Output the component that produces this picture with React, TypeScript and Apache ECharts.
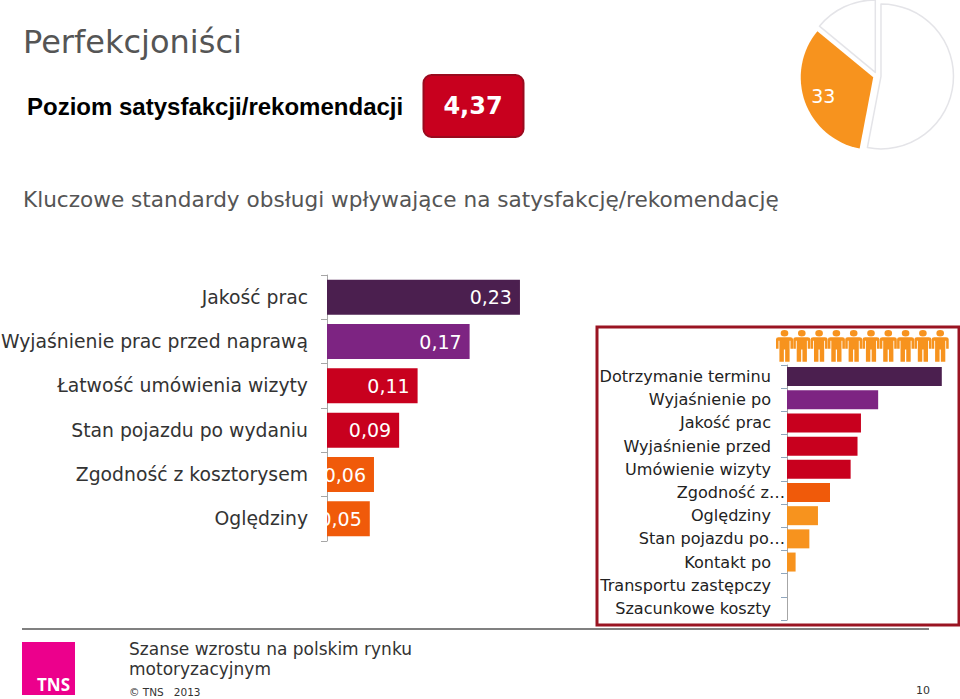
import React, { useEffect, useRef } from "react";
import * as echarts from "echarts";

const leftCategories = ["Jakość prac", "Wyjaśnienie prac przed naprawą", "Łatwość umówienia wizyty", "Stan pojazdu po wydaniu", "Zgodność z kosztorysem", "Oględziny"];
const leftValues = [0.23, 0.17, 0.108, 0.086, 0.056, 0.051];
const leftColors = ["#4b1f4f", "#7d2482", "#c8001e", "#c8001e", "#f05a0a", "#f05a0a"];

const rightCategories = ["Dotrzymanie terminu", "Wyjaśnienie po", "Jakość prac", "Wyjaśnienie przed", "Umówienie wizyty", "Zgodność z…", "Oględziny", "Stan pojazdu po…", "Kontakt po", "Transportu zastępczy", "Szacunkowe koszty"];
const rightValues = [90, 53, 43, 41, 37, 25, 18, 13, 5, 0, 0];
const rightColors = ["#4b1f4f", "#7d2482", "#c8001e", "#c8001e", "#c8001e", "#f05a0a", "#f7931e", "#f7931e", "#f7931e", "#f7931e", "#f7931e"];

const pieValues = [53, 33, 14];
const peopleCount = 10;

const FONT = "DejaVu Sans";
const PERSON =
  "M10 0a4.5 4.5 0 1 1 0 9a4.5 4.5 0 1 1 0-9z M3 10h14a3 3 0 0 1 3 3v13h-3v-11h-1v29h-5.25v-17h-1.5v17h-5.25v-29h-1v11h-3v-13a3 3 0 0 1 3-3z";

export default function App() {
  const ref = useRef<HTMLDivElement>(null);
  useEffect(() => {
    document.body.style.margin = "0";
    echarts.graphic.registerShape("person", echarts.graphic.extendPath(PERSON, {}) as any);
    const chart = echarts.init(ref.current!, null, { renderer: "svg" });
    const people = Array.from({ length: peopleCount }, (_, i) => ({
      type: "person",
      x: 776 + i * 17.3,
      y: 330,
      scaleX: 0.85,
      scaleY: 0.72,
      style: { fill: "#f7931e" },
    }));
    chart.setOption({
      animation: false,
      backgroundColor: "#ffffff",
      grid: [
        { left: 327, top: 275, width: 200, height: 266, containLabel: false, outerBoundsMode: "none" },
        { left: 787, top: 365, width: 172, height: 255, containLabel: false, outerBoundsMode: "none" },
      ],
      xAxis: [
        { gridIndex: 0, type: "value", min: 0, max: 0.2384, show: false },
        { gridIndex: 1, type: "value", min: 0, max: 100, show: false },
      ],
      yAxis: [
        {
          gridIndex: 0,
          type: "category",
          inverse: true,
          data: leftCategories,
          axisLine: { show: true, lineStyle: { color: "#a6a6a6", width: 1 } },
          axisTick: { show: true, length: 6, lineStyle: { color: "#a6a6a6" } },
          axisLabel: { color: "#333333", fontFamily: FONT, fontSize: 18.8, margin: 19 },
        },
        {
          gridIndex: 1,
          type: "category",
          inverse: true,
          data: rightCategories,
          axisLine: { show: true, lineStyle: { color: "#a6a6a6", width: 1 } },
          axisTick: { show: true, length: 6, lineStyle: { color: "#8fa6bd" } },
          axisLabel: {
            color: "#222222",
            fontFamily: FONT,
            fontSize: 16.1,
            margin: 2,
            formatter: (v: string) => (v.endsWith("…") ? `{t|${v}}` : `{n|${v}}`),
            rich: {
              n: { fontFamily: FONT, fontSize: 16.1, color: "#222222", padding: [0, 14, 0, 0] },
              t: { fontFamily: FONT, fontSize: 16.1, color: "#222222" },
            },
          },
        },
      ],
      series: [
        {
          type: "bar",
          xAxisIndex: 0,
          yAxisIndex: 0,
          barWidth: 35,
          data: leftValues.map((v, i) => ({ value: v, itemStyle: { color: leftColors[i] } })),
          label: {
            show: true,
            position: "insideRight",
            distance: 8,
            color: "#ffffff",
            fontFamily: FONT,
            fontSize: 19,
            formatter: (p: any) => p.value.toFixed(2).replace(".", ","),
          },
        },
        {
          type: "bar",
          xAxisIndex: 1,
          yAxisIndex: 1,
          barWidth: 19,
          data: rightValues.map((v, i) => ({ value: v, itemStyle: { color: rightColors[i] } })),
        },
        {
          type: "pie",
          center: [877, 76],
          radius: [0, 72.5],
          startAngle: 90,
          selectedMode: "multiple",
          selectedOffset: 4,
          itemStyle: { color: "#ffffff", borderColor: "#e4e4e8", borderWidth: 1.5 },
          label: { show: false },
          labelLine: { show: false },
          labelLayout: { dx: -13, dy: 5 },
          data: [
            { value: pieValues[0], selected: true },
            {
              value: pieValues[1],
              selected: true,
              itemStyle: { color: "#f7931e", borderWidth: 0 },
              label: { show: true, position: "inside", color: "#ffffff", fontFamily: FONT, fontSize: 19, formatter: "{c}" },
            },
            { value: pieValues[2], selected: true },
          ],
        },
      ],
      graphic: [
        { type: "text", x: 23, y: 26, style: { text: "Perfekcjoniści", fill: "#555555", font: `32px ${FONT}` } },
        { type: "text", x: 27, y: 94, style: { text: "Poziom satysfakcji/rekomendacji", fill: "#000000", font: "bold 24px 'Liberation Sans'" } },
        { type: "rect", shape: { x: 423.5, y: 75, width: 100, height: 62, r: 8 }, style: { fill: "#c8001e", stroke: "#9a0a1e", lineWidth: 2 } },
        { type: "text", x: 473, y: 106, style: { text: "4,37", fill: "#ffffff", font: `bold 24px ${FONT}`, align: "center", verticalAlign: "middle" } },
        { type: "text", x: 23, y: 188, style: { text: "Kluczowe standardy obsługi wpływające na satysfakcję/rekomendację", fill: "#555555", font: `21.6px ${FONT}` } },
        { type: "rect", shape: { x: 597, y: 327, width: 362, height: 298 }, style: { fill: "none", stroke: "#9a1422", lineWidth: 3 } },
        ...people,
        { type: "line", shape: { x1: 22, y1: 629, x2: 929, y2: 629 }, style: { stroke: "#808080", lineWidth: 2 } },
        { type: "rect", shape: { x: 22, y: 642, width: 53, height: 53 }, style: { fill: "#ec008c" } },
        { type: "text", x: 37, y: 676, style: { text: "TNS", fill: "#ffffff", font: "bold 17px 'Open Sans'" } },
        { type: "text", x: 129, y: 640, style: { text: "Szanse wzrostu na polskim rynku", fill: "#333333", font: `17px ${FONT}` } },
        { type: "text", x: 129, y: 660, style: { text: "motoryzacyjnym", fill: "#333333", font: `17px ${FONT}` } },
        { type: "text", x: 129, y: 686, style: { text: "© TNS   2013", fill: "#333333", font: `10.5px ${FONT}` } },
        { type: "text", x: 916, y: 685, style: { text: "10", fill: "#333333", font: `11px ${FONT}` } },
      ],
    });
    return () => chart.dispose();
  }, []);
  return <div ref={ref} style={{ position: "absolute", left: 0, top: 0, width: 960, height: 699 }} />;
}
